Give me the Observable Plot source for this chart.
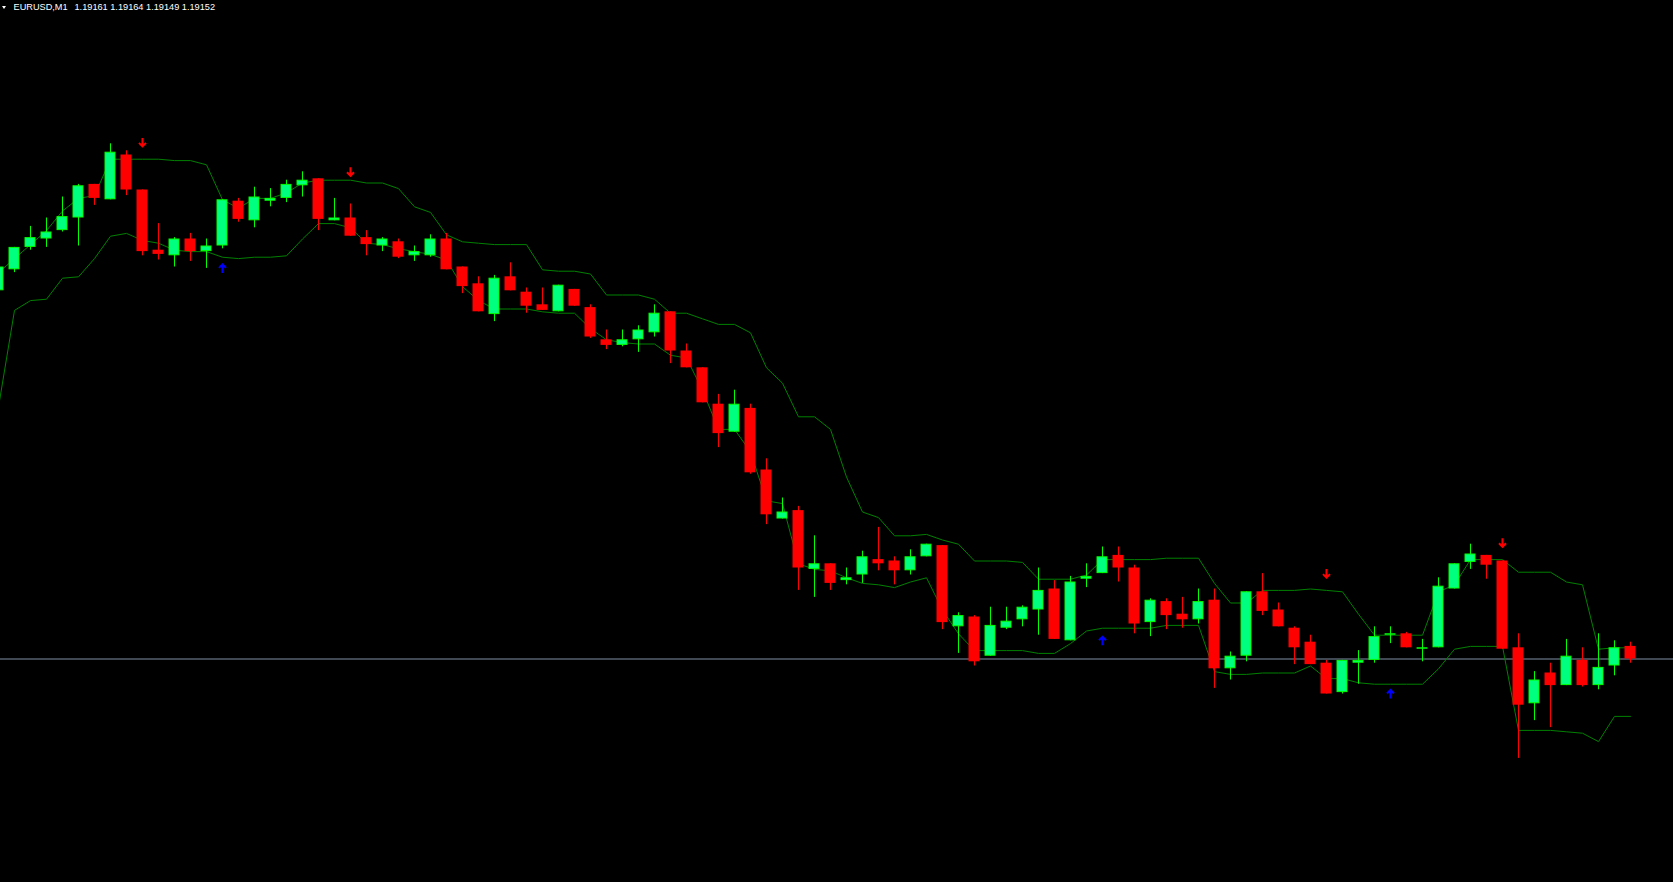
<!DOCTYPE html>
<html>
<head>
<meta charset="utf-8">
<script src="https://cdn.jsdelivr.net/npm/d3@7"></script>
<script src="https://cdn.jsdelivr.net/npm/@observablehq/plot@0.6"></script>
<style>
  html, body { margin: 0; padding: 0; background: #000; overflow: hidden; }
  #wrap { position: relative; width: 1673px; height: 882px; background: #000; }
  #hdr { position: absolute; left: 0; top: 3px; height: 12px; color: #fff;
         font-family: "Liberation Sans", Arial, sans-serif; font-size: 9.2px; line-height: 9.2px; white-space: pre; }
  #tri { position: absolute; left: 2px; top: 2.5px; width: 0; height: 0;
         border-left: 2.8px solid transparent; border-right: 2.8px solid transparent; border-top: 3.6px solid #fff; }
  #sym { position: absolute; left: 13.5px; top: 0; }
  #vals { position: absolute; left: 74.5px; top: 0; }
  svg { display: block; }
</style>
</head>
<body>
<div id="wrap">
  <div id="chart"></div>
  <div id="hdr"><div id="tri"></div><span id="sym"></span><span id="vals"></span></div>
</div>
<script>
// ---- data (EURUSD, M1) ----
const symbol = "EURUSD,M1";

const open = [
1.19415,1.19430,1.19446,1.19452,1.19458,1.19467,1.19491,1.19480,1.19512,1.19487,
1.19444,1.19440,1.19452,1.19443,1.19447,1.19479,1.19465,1.19479,1.19481,1.19490,
1.19495,1.19465,1.19467,1.19453,1.19447,1.19450,1.19440,1.19440,1.19452,1.19432,
1.19420,1.19398,1.19425,1.19414,1.19405,1.19400,1.19416,1.19403,1.19380,1.19376,
1.19380,1.19385,1.19400,1.19372,1.19360,1.19334,1.19314,1.19331,1.19287,1.19252,
1.19258,1.19216,1.19220,1.19208,1.19212,1.19223,1.19222,1.19215,1.19225,1.19233,
1.19175,1.19182,1.19154,1.19174,1.19180,1.19187,1.19202,1.19165,1.19209,1.19213,
1.19226,1.19217,1.19178,1.19193,1.19184,1.19180,1.19194,1.19145,1.19154,1.19200,
1.19187,1.19174,1.19164,1.19149,1.19128,1.19149,1.19151,1.19169,1.19170,1.19159,
1.19160,1.19202,1.19221,1.19226,1.19222,1.19160,1.19120,1.19142,1.19133,1.19151,
1.19133,1.19147,1.19161];

const high = [
1.19432,1.19446,1.19461,1.19467,1.19482,1.19491,1.19491,1.19520,1.19515,1.19487,
1.19463,1.19453,1.19456,1.19452,1.19480,1.19481,1.19489,1.19488,1.19494,1.19500,
1.19495,1.19481,1.19477,1.19458,1.19453,1.19452,1.19447,1.19455,1.19456,1.19432,
1.19425,1.19426,1.19435,1.19417,1.19417,1.19419,1.19416,1.19405,1.19387,1.19387,
1.19390,1.19405,1.19400,1.19377,1.19360,1.19341,1.19344,1.19334,1.19295,1.19267,
1.19261,1.19240,1.19220,1.19217,1.19229,1.19246,1.19225,1.19230,1.19234,1.19233,
1.19185,1.19183,1.19189,1.19189,1.19190,1.19217,1.19208,1.19211,1.19220,1.19232,
1.19232,1.19219,1.19195,1.19195,1.19196,1.19202,1.19202,1.19157,1.19200,1.19213,
1.19192,1.19175,1.19169,1.19151,1.19151,1.19158,1.19175,1.19175,1.19171,1.19166,
1.19210,1.19220,1.19234,1.19226,1.19222,1.19170,1.19143,1.19149,1.19166,1.19160,
1.19170,1.19165,1.19164];

const low = [
1.19414,1.19428,1.19444,1.19446,1.19457,1.19447,1.19476,1.19480,1.19483,1.19440,
1.19437,1.19432,1.19436,1.19431,1.19445,1.19464,1.19460,1.19475,1.19478,1.19482,
1.19458,1.19465,1.19454,1.19440,1.19443,1.19438,1.19436,1.19439,1.19430,1.19413,
1.19400,1.19393,1.19415,1.19399,1.19401,1.19400,1.19404,1.19381,1.19373,1.19375,
1.19371,1.19382,1.19363,1.19360,1.19335,1.19303,1.19314,1.19284,1.19248,1.19252,
1.19201,1.19196,1.19201,1.19205,1.19206,1.19215,1.19205,1.19212,1.19225,1.19173,
1.19156,1.19147,1.19154,1.19173,1.19175,1.19169,1.19166,1.19165,1.19203,1.19213,
1.19207,1.19170,1.19168,1.19173,1.19174,1.19177,1.19131,1.19137,1.19150,1.19183,
1.19175,1.19148,1.19148,1.19127,1.19127,1.19134,1.19149,1.19163,1.19160,1.19150,
1.19160,1.19202,1.19216,1.19209,1.19159,1.19081,1.19108,1.19103,1.19133,1.19132,
1.19130,1.19140,1.19149];

const close = [
1.19432,1.19446,1.19453,1.19457,1.19468,1.19490,1.19481,1.19514,1.19487,1.19443,
1.19441,1.19452,1.19443,1.19447,1.19480,1.19466,1.19482,1.19481,1.19491,1.19494,
1.19466,1.19467,1.19454,1.19448,1.19452,1.19439,1.19443,1.19452,1.19430,1.19418,
1.19400,1.19424,1.19415,1.19404,1.19401,1.19419,1.19404,1.19382,1.19376,1.19380,
1.19387,1.19399,1.19372,1.19360,1.19335,1.19313,1.19334,1.19285,1.19255,1.19257,
1.19217,1.19220,1.19206,1.19210,1.19225,1.19220,1.19215,1.19225,1.19234,1.19178,
1.19183,1.19150,1.19176,1.19179,1.19189,1.19201,1.19166,1.19207,1.19211,1.19225,
1.19217,1.19177,1.19194,1.19183,1.19180,1.19193,1.19145,1.19154,1.19200,1.19186,
1.19175,1.19160,1.19148,1.19127,1.19151,1.19151,1.19168,1.19170,1.19160,1.19160,
1.19204,1.19220,1.19227,1.19219,1.19159,1.19119,1.19137,1.19133,1.19154,1.19133,
1.19146,1.19160,1.19152];

const upperBand = [
1.19428,1.19438,1.19448,1.19458,1.19472,1.19481,1.19483,1.19509,1.19509,1.19509,
1.19509,1.19508,1.19508,1.19505,1.19480,1.19474,1.19481,1.19481,1.19485,1.19492,
1.19494,1.19494,1.19494,1.19492,1.19492,1.19488,1.19475,1.19471,1.19455,1.19450,
1.19449,1.19448,1.19448,1.19448,1.19430,1.19429,1.19429,1.19427,1.19412,1.19412,
1.19412,1.19409,1.19399,1.19399,1.19395,1.19391,1.19391,1.19385,1.19360,1.19349,
1.19325,1.19325,1.19316,1.19282,1.19257,1.19253,1.19240,1.19240,1.19241,1.19237,
1.19234,1.19222,1.19222,1.19222,1.19221,1.19209,1.19209,1.19209,1.19212,1.19223,
1.19223,1.19223,1.19223,1.19224,1.19224,1.19224,1.19206,1.19192,1.19192,1.19201,
1.19201,1.19201,1.19202,1.19201,1.19200,1.19184,1.19169,1.19169,1.19169,1.19169,
1.19200,1.19205,1.19223,1.19223,1.19223,1.19214,1.19214,1.19214,1.19207,1.19205,
1.19159,1.19160,1.19160];

const lowerBand = [
1.19332,1.19401,1.19408,1.19409,1.19424,1.19425,1.19438,1.19454,1.19456,1.19451,
1.19449,1.19444,1.19443,1.19443,1.19439,1.19438,1.19439,1.19439,1.19440,1.19452,
1.19463,1.19463,1.19460,1.19449,1.19448,1.19445,1.19443,1.19441,1.19437,1.19418,
1.19408,1.19402,1.19402,1.19402,1.19400,1.19399,1.19399,1.19388,1.19380,1.19378,
1.19377,1.19377,1.19369,1.19367,1.19344,1.19316,1.19316,1.19300,1.19265,1.19263,
1.19220,1.19216,1.19215,1.19210,1.19206,1.19205,1.19203,1.19207,1.19210,1.19187,
1.19170,1.19158,1.19158,1.19158,1.19158,1.19156,1.19156,1.19163,1.19172,1.19174,
1.19174,1.19174,1.19174,1.19176,1.19176,1.19176,1.19143,1.19141,1.19141,1.19142,
1.19142,1.19142,1.19147,1.19138,1.19138,1.19135,1.19134,1.19134,1.19134,1.19134,
1.19145,1.19159,1.19161,1.19161,1.19161,1.19101,1.19101,1.19101,1.19100,1.19099,
1.19093,1.19111,1.19111];

// signal arrows: bar index and price level
const sellIdx = [9, 22, 83, 94];
const sellPrice = [1.19521, 1.19500, 1.19213, 1.19235];
const buyIdx = [14, 69, 87];
const buyPrice = [1.19431, 1.19165, 1.19127];

// visible price window of the chart
const priceMin = 1.1899236, priceMax = 1.1962236;

// ---- build tables ----
const bars = open.map((o, i) => ({i, o, h: high[i], l: low[i], c: close[i], up: close[i] >= open[i]}));
const bandU = upperBand.map((v, i) => ({i, v}));
const bandL = lowerBand.map((v, i) => ({i, v}));
const sells = sellIdx.map((i, k) => ({i, p: sellPrice[k]}));
const buys = buyIdx.map((i, k) => ({i, p: buyPrice[k]}));
const last = bars[bars.length - 1];
const bid = last.c;

const fmt = v => v.toFixed(5);
document.getElementById("sym").textContent = symbol;
document.getElementById("vals").textContent = [last.o, last.h, last.l, last.c].map(fmt).join(" ");

const arrowDown = {
  draw(ctx) {
    ctx.moveTo(0, -4.5); ctx.lineTo(0, 4);
    ctx.moveTo(-3.5, 0.5); ctx.lineTo(0, 4); ctx.lineTo(3.5, 0.5);
  }
};
const arrowUp = {
  draw(ctx) {
    ctx.moveTo(0, 4.5); ctx.lineTo(0, -4);
    ctx.moveTo(-3.5, -0.5); ctx.lineTo(0, -4); ctx.lineTo(3.5, -0.5);
  }
};

const HW = 0.34375; // half body width in bar units
const bull = bars.filter(d => d.up), bear = bars.filter(d => !d.up);

const chart = Plot.plot({
  width: 1673,
  height: 882,
  margin: 0,
  style: {background: "#000"},
  x: {type: "linear", domain: [0, 102], range: [-2, 1630], axis: null},
  y: {type: "linear", domain: [priceMin, priceMax], range: [882, 0], axis: null},
  marks: [
    Plot.ruleY([bid], {stroke: "#8090a6", strokeWidth: 1}),
    Plot.line(bandU, {x: "i", y: "v", stroke: "#008000", strokeWidth: 1}),
    Plot.line(bandL, {x: "i", y: "v", stroke: "#008000", strokeWidth: 1}),
    Plot.ruleX(bars, {x: "i", y1: "l", y2: "h", stroke: d => d.up ? "#00ff00" : "#ff0000", strokeWidth: 1}),
    Plot.rect(bear, {x1: d => d.i - HW, x2: d => d.i + HW, y1: "o", y2: "c", fill: "#ff0000"}),
    Plot.rect(bull, {x1: d => d.i - HW, x2: d => d.i + HW, y1: "o", y2: "c", fill: "#00ff7f",
      stroke: "#00ff00", strokeWidth: 1, inset: 0.5}),
    Plot.dot(sells, {x: "i", y: "p", symbol: arrowDown, fill: "none", stroke: "#ff0000", strokeWidth: 2, r: 5}),
    Plot.dot(buys, {x: "i", y: "p", symbol: arrowUp, fill: "none", stroke: "#0000ff", strokeWidth: 2, r: 5})
  ]
});
document.getElementById("chart").appendChild(chart);
</script>
</body>
</html>
